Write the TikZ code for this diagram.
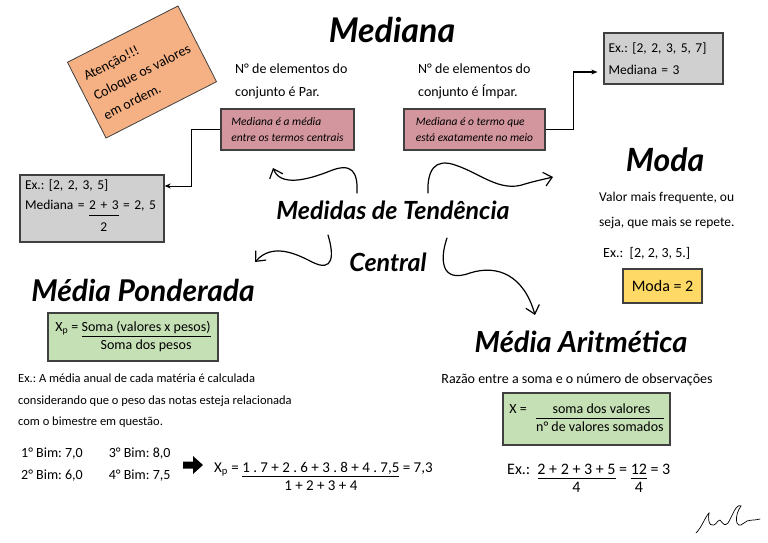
\documentclass[tikz,border=0pt]{standalone}
\usepackage{fontspec}
\setmainfont{Carlito}
\newfontfamily\titlefont{Lato}
\usetikzlibrary{arrows.meta}
\definecolor{notebox}{HTML}{F5B183}
\definecolor{pinkbox}{HTML}{D4969E}
\definecolor{greenbox}{HTML}{C5E0B4}
\definecolor{yellowbox}{HTML}{FFD966}
\definecolor{greybox}{HTML}{D0D0D0}
\setlength\arrayrulewidth{0.9pt}
\frenchspacing
\newcommand\frc[2]{\begin{tabular}[t]{@{}c@{}}#1\\[-1pt]\hline\rule{0pt}{13pt}#2\end{tabular}}
\newcommand\fsz[2]{\fontsize{#1}{#2}\selectfont}
\begin{document}
\begin{tikzpicture}[x=1pt,y=-1pt,line width=0.4pt,every node/.style={inner sep=1pt}]
\tikzset{
  card/.style={draw=black!75,line width=1.3pt,inner sep=4pt},
  greycard/.style={card,fill=greybox,align=left,font=\fsz{13.5}{22}},
  pinkcard/.style={card,fill=pinkbox,align=left,font=\fsz{11.5}{16}\itshape},
  greencard/.style={card,fill=greenbox,font=\fsz{14}{18}},
  headline/.style={font=\titlefont\bfseries\itshape\fsz{#1}{#1}},
  txt/.style={align=left,font=\fsz{14}{23}},
  link/.style={line width=1pt,-{Stealth[length=6pt,width=5pt]}},
  curly/.style={line width=1.2pt,line cap=round,-{Straight Barb[length=8pt,width=14pt]}},
}
\useasboundingbox (0,0) rectangle (768,543);
% note
\node[card,line width=0.8pt,fill=notebox,rotate=27,minimum width=124,minimum height=85,align=left,font=\fsz{14}{22}] (note) at (142,72) {Atenção!!!\\Coloque os valores\\em ordem.};
% mediana
\node[headline=34] (mediana) at (392,30) {Mediana};
\node[txt,anchor=west] (par) at (234,81) {N° de elementos do\\conjunto é Par.};
\node[txt,anchor=west] (impar) at (417,81) {N° de elementos do\\conjunto é Ímpar.};
\node[pinkcard,minimum width=133,minimum height=41] (pmedia) at (287.5,129.5) {Mediana é a média\\entre os termos centrais};
\node[pinkcard,minimum width=141,minimum height=41] (pmeio) at (474.5,129.5) {Mediana é o termo que\\está exatamente no meio};
\node[greycard,minimum width=119,minimum height=51,text width=110,inner sep=3pt] (exR) at (663.5,58.5) {Ex.: [2, 2, 3, 5, 7]\\Mediana = 3};
\node[greycard,minimum width=144,minimum height=67,text width=134,inner sep=4pt] (exL) at (92,208.5) {Ex.: [2, 2, 3, 5]\\[-2pt]Mediana = \frc{2 + 3}{2} = 2, 5};
\draw[link] (pmedia.west) -- +(-29,0) |- ([yshift=22.5pt]exL.east);
\draw[link,shorten >=6pt] (pmeio.east) -- +(28,0) |- ([yshift=-13.5pt]exR.west);
% centre
\node[headline=25] (tit1) at (393,210) {Medidas de Tendência};
\node[headline=25] (tit2) at (388,262) {Central};
\coordinate (a0) at (357,193);
\coordinate (a1) at (273,168);
\coordinate (b0) at (428,193);
\coordinate (b1) at (553,177);
\coordinate (c0) at (328,235);
\coordinate (c1) at (255,262);
\coordinate (d0) at (447,238);
\coordinate (d1) at (535,315);
\draw[curly] (a0) .. controls (358,172) and (352,162) .. (330,171) .. controls (305,181) and (280,186) .. (a1);
\draw[curly] (b0) .. controls (427,170) and (435,158) .. (455,165) .. controls (480,173) and (500,193) .. (525,184) .. controls (535,181) and (545,179) .. (b1);
\draw[curly] (c0) .. controls (334,255) and (334,273) .. (312,262) .. controls (295,253) and (272,243) .. (c1);
\draw[curly] (d0) .. controls (440,258) and (440,284) .. (470,273) .. controls (498,264) and (524,276) .. (d1);
% moda
\node[headline=32] (moda) at (665,160) {Moda};
\node[txt,anchor=west,font=\fsz{13.5}{25}] (modatxt) at (598,210.5) {Valor mais frequente, ou\\seja, que mais se repete.};
\node[txt,anchor=west] (modaex) at (602,253) {Ex.:\ \ [2, 2, 3, 5.]};
\node[card,fill=yellowbox,minimum width=79,minimum height=34,font=\fsz{16}{18}] (modares) at (662.5,286) {Moda = 2};
% media ponderada
\node[headline=30] (ponderada) at (143,290) {Média Ponderada};
\node[greencard,minimum width=170,minimum height=48] (fpond) at (133,337) {X$_{\mathrm p}$ = \frc{Soma (valores x pesos)}{Soma dos pesos}};
\node[txt,anchor=west,font=\fsz{12.5}{21.5}] (pondex) at (17,401) {Ex.: A média anual de cada matéria é calculada\\considerando que o peso das notas esteja relacionada\\com o bimestre em questão.};
\node[anchor=west,font=\fsz{14}{22}] (bims) at (20,464) {\begin{tabular}{@{}l@{\hspace{26pt}}l@{}}1° Bim: 7,0 & 3° Bim: 8,0\\2° Bim: 6,0 & 4° Bim: 7,5\end{tabular}};
\fill (183,461.5) -- (193,461.5) -- (193,456) -- (203,465) -- (193,474) -- (193,468.5) -- (183,468.5) -- cycle;
\node[anchor=base west,font=\fsz{15}{18}] (pondcalc) at (213,472) {X$_{\mathrm p}$ = \frc{1 . 7 + 2 . 6 + 3 . 8 + 4 . 7,5}{1 + 2 + 3 + 4} = 7,3};
% media aritmetica
\node[headline=29] (aritm) at (581,342) {Média Aritmética};
\node[font=\fsz{14}{18}] (aritmtxt) at (577,380) {Razão entre a soma e o número de observações};
\node[greencard,minimum width=167,minimum height=52] (faritm) at (586.5,419) {X =\ \ \ \frc{\ \ soma dos valores\ \ }{n° de valores somados}};
\node[anchor=base west,font=\fsz{16}{18}] (aritmex) at (506,474) {Ex.:\ \ \frc{2 + 2 + 3 + 5}{4} = \frc{12}{4} = 3};
% signature
\draw[line width=0.7pt,line cap=round] (696,533) .. controls (702,527) and (705,517) .. (709,513) .. controls (707,524) and (712,530) .. (718,521) .. controls (721,516) and (722,529) .. (728,523) .. controls (732,517) and (736,503) .. (741,506) .. controls (734,515) and (735,531) .. (744,523) .. controls (748,519) and (752,521) .. (760,519);
\end{tikzpicture}
\end{document}
